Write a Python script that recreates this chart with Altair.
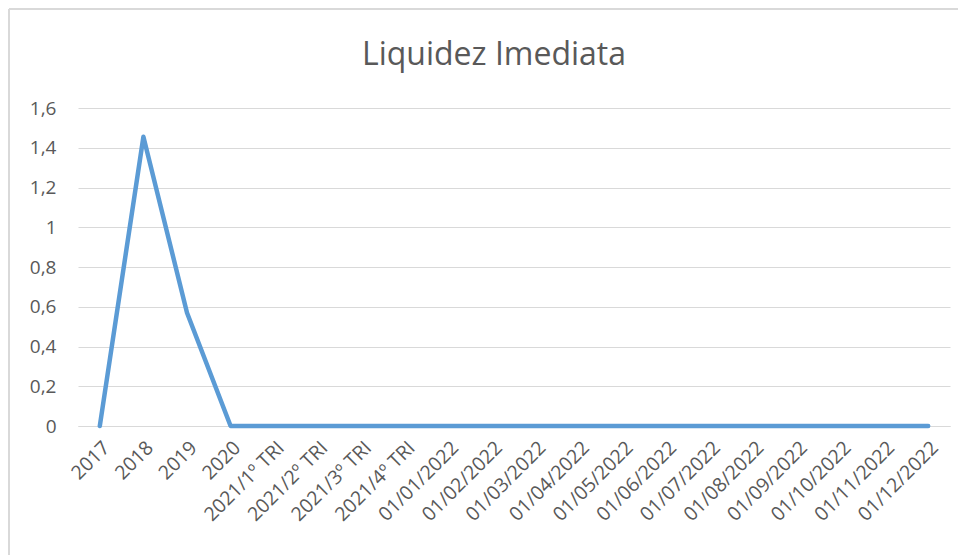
import altair as alt
import pandas as pd

categories = ["2017", "2018", "2019", "2020",
              "2021/1º TRI", "2021/2º TRI", "2021/3º TRI", "2021/4º TRI",
              "01/01/2022", "01/02/2022", "01/03/2022", "01/04/2022",
              "01/05/2022", "01/06/2022", "01/07/2022", "01/08/2022",
              "01/09/2022", "01/10/2022", "01/11/2022", "01/12/2022"]
values = [0, 1.455, 0.57, 0, 0, 0, 0, 0, 0, 0, 0, 0, 0, 0, 0, 0, 0, 0, 0, 0]

df = pd.DataFrame({"periodo": categories, "valor": values})

FONT = "Open Sans"
GRAY = "#595959"
BORDER = "#d9d9d9"

line = alt.Chart(df).mark_line(
    color="#5b9bd5", strokeWidth=4.5, strokeCap="round", strokeJoin="round"
).encode(
    x=alt.X("periodo:N", sort=categories, title=None,
            scale=alt.Scale(type="point", padding=0.5),
            axis=alt.Axis(labelAngle=-45, labelAlign="right", labelBaseline="top",
                          labelFontSize=19.5, labelColor=GRAY, labelFont=FONT,
                          labelPadding=12, ticks=False, domain=True,
                          domainColor=BORDER, grid=False, labelOverlap=False)),
    y=alt.Y("valor:Q", title=None,
            scale=alt.Scale(domain=[0, 1.6], nice=False),
            axis=alt.Axis(values=[0, 0.2, 0.4, 0.6, 0.8, 1, 1.2, 1.4, 1.6],
                          labelExpr="replace(format(datum.value, '.1~f'), '.', ',')",
                          labelFontSize=19, labelColor=GRAY, labelFont=FONT,
                          labelPadding=22, ticks=False, domain=False,
                          grid=True, gridColor=BORDER, gridWidth=1.2)),
)

frame_df = pd.DataFrame({"k": [0]})
left_border = alt.Chart(frame_df).mark_rule(color=BORDER, strokeWidth=2).encode(
    x=alt.value(-69), y=alt.value(-99), y2=alt.value(460))
top_border = alt.Chart(frame_df).mark_rule(color=BORDER, strokeWidth=2).encode(
    x=alt.value(-69), x2=alt.value(900), y=alt.value(-99))

chart = alt.layer(left_border, top_border, line).properties(
    width=872, height=318,
    title=alt.TitleParams("Liquidez Imediata", fontSize=32, font=FONT,
                          fontWeight="normal", color=GRAY, offset=-64, dx=-20),
    autosize=alt.AutoSizeParams(type="none"),
    padding={"left": 70, "top": 100, "right": 8, "bottom": 130},
).configure(background="white", view=alt.ViewConfig(stroke=None))

chart.save("out.html", embed_options={"renderer": "svg", "actions": False})
